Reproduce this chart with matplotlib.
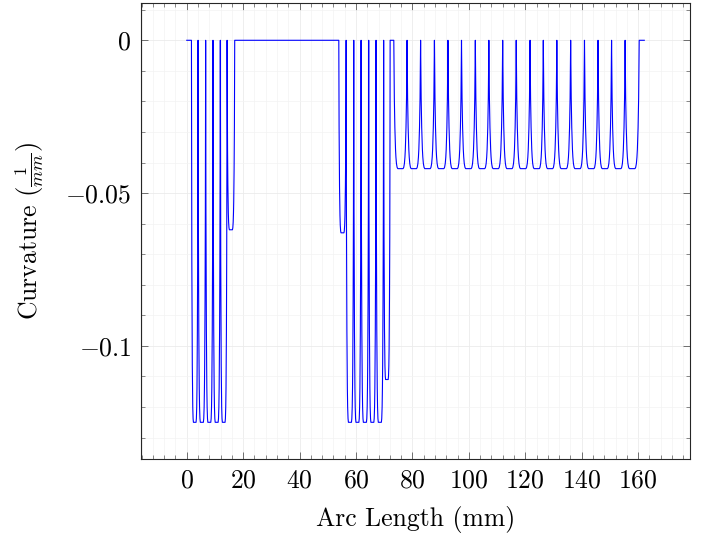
import numpy as np
import matplotlib.pyplot as plt
from matplotlib.ticker import MultipleLocator

plt.rcParams['font.family'] = 'serif'
plt.rcParams['font.serif'] = ['cmr10']
plt.rcParams['mathtext.fontset'] = 'cm'
plt.rcParams['axes.formatter.use_mathtext'] = True

# curve starts / ends (mm)
arc_start = 0.0
arc_end = 162.2

# dip edges (mm) and dip depths (1/mm)
group1_edges = [1.66, 4.0, 6.7, 9.3, 11.9, 14.3, 17.0]
group1_depths = [-0.125, -0.125, -0.125, -0.125, -0.125, -0.062]

group2_edges = [53.9, 56.5, 59.2, 61.8, 64.5, 67.1, 69.8, 72.1]
group2_depths = [-0.063, -0.125, -0.125, -0.125, -0.125, -0.125, -0.111]

group3_edges = [73.4, 78.1, 82.9, 87.8, 92.6, 97.4, 102.3, 107.1, 112.0, 116.8,
                121.7, 126.4, 131.2, 136.1, 141.0, 145.8, 150.6, 155.4, 160.4]
group3_depths = [-0.042, -0.042, -0.042, -0.042, -0.042, -0.042, -0.042, -0.042, -0.042,
                 -0.042, -0.042, -0.042, -0.042, -0.042, -0.042, -0.042, -0.042, -0.042]

# half shape of one dip: fraction of width -> fraction of depth
dip_t = np.array([0, 0.01, 0.02, 0.04, 0.06, 0.08, 0.10, 0.13, 0.16, 0.20, 0.25, 0.30, 0.5])
dip_f = np.array([0, 0.13, 0.25, 0.45, 0.58, 0.68, 0.76, 0.85, 0.91, 0.96, 0.99, 1.0, 1.0])

t_full = np.concatenate([dip_t, 1 - dip_t[::-1][1:]])
f_full = np.concatenate([dip_f, dip_f[::-1][1:]])

xs = [arc_start]
ys = [0.0]
for edges, depths in [(group1_edges, group1_depths),
                      (group2_edges, group2_depths),
                      (group3_edges, group3_depths)]:
    for a, b, d in zip(edges[:-1], edges[1:], depths):
        xs.extend(a + t_full * (b - a))
        ys.extend(d * f_full)
xs.append(arc_end)
ys.append(0.0)

fig = plt.figure(figsize=(7.1, 5.36), dpi=100)
ax = fig.add_axes([0.1986, 0.1437, 0.7732, 0.8507])

ax.plot(xs, ys, color='blue', lw=0.8)

ax.set_xlim(-16.22, 178.4)
ax.set_ylim(-0.137, 0.0122)

ax.set_xticks(np.arange(0, 161, 20))
ax.xaxis.set_minor_locator(MultipleLocator(4))
ax.set_yticks([0, -0.05, -0.1])
ax.set_yticklabels([r'$0$', r'$-0.05$', r'$-0.1$'])
ax.yaxis.set_minor_locator(MultipleLocator(0.01))

ax.tick_params(which='both', direction='in', top=True, right=True, labelsize=18.5,
               color='0.35', pad=7)
ax.tick_params(which='major', length=5, width=0.6)
ax.tick_params(which='minor', length=3, width=0.5)

ax.grid(which='major', color='#ebebeb', lw=0.6)
ax.grid(which='minor', color='#f3f3f3', lw=0.5)
ax.set_axisbelow(True)

for s in ax.spines.values():
    s.set_linewidth(0.8)
    s.set_color('0.15')

ax.set_xlabel('Arc Length (mm)', fontsize=18.5, labelpad=10)
ax.set_ylabel(r'Curvature $\left(\frac{1}{mm}\right)$', fontsize=18.5, labelpad=14)

fig.savefig('out.png', dpi=100)
